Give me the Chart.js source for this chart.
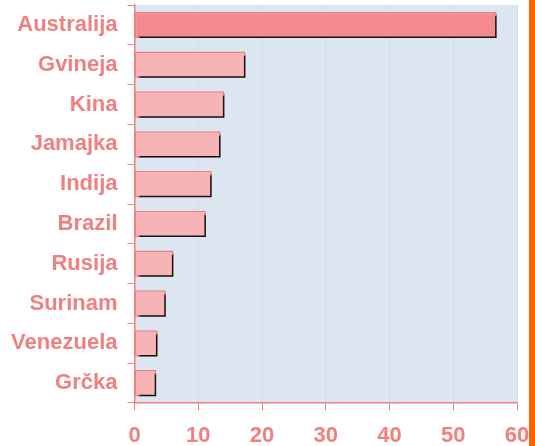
<!DOCTYPE html>
<html>
<head>
<meta charset="utf-8">
<script src="https://cdn.jsdelivr.net/npm/chart.js@4"></script>
<style>
  body { margin: 0; background: #fff; }
  #wrap { position: relative; width: 535px; height: 446px; }
  #box { position: absolute; left: 0; top: 0; width: 529px; height: 446px; }
  #stripe { position: absolute; left: 529px; top: 0; width: 6px; height: 446px; background: #ff6000; }
</style>
</head>
<body>
<div id="wrap">
  <div id="box"><canvas id="chart"></canvas></div>
  <div id="stripe"></div>
</div>
<script>
const countries = ["Australija", "Gvineja", "Kina", "Jamajka", "Indija", "Brazil", "Rusija", "Surinam", "Venezuela", "Grčka"];
const output = [56.8, 17.4, 14.1, 13.5, 12.1, 11.2, 6.1, 4.9, 3.6, 3.4];
const xTicks = [0, 10, 20, 30, 40, 50, 60];

const pink = "#f08080";
const ctx = document.getElementById("chart");

let fills = output.map((v) => "#f7b4b6");
fills[0] = "#f48a8e";

const plotBg = {
  id: "plotBg",
  beforeDraw(chart) {
    const a = chart.chartArea;
    const c = chart.ctx;
    c.save();
    c.fillStyle = "#dce6f1";
    c.fillRect(a.left, a.top, a.right - a.left, a.bottom - a.top);
    c.restore();
  },
};

const barShadow = {
  id: "barShadow",
  beforeDatasetsDraw(chart) {
    const c = chart.ctx;
    c.save();
    c.shadowColor = "#141414";
    c.shadowOffsetX = 3;
    c.shadowOffsetY = 3;
    c.shadowBlur = 0;
  },
  afterDatasetsDraw(chart) {
    chart.ctx.restore();
  },
};

function noPad(axis) {
  axis.paddingTop = 0;
  axis.paddingBottom = 0;
  axis.paddingLeft = 0;
  axis.paddingRight = 0;
}

new Chart(ctx, {
  type: "bar",
  data: {
    labels: countries,
    datasets: [
      {
        data: output,
        backgroundColor: fills,
        borderColor: pink,
        borderWidth: 1.5,
        borderSkipped: false,
        categoryPercentage: 1,
        barPercentage: 0.66,
      },
    ],
  },
  options: {
    indexAxis: "y",
    responsive: true,
    maintainAspectRatio: false,
    animation: false,
    layout: {
      padding: { top: 5, left: 0, right: 12, bottom: 0 },
    },
    scales: {
      x: {
        min: 0,
        max: 60,
        afterBuildTicks: (axis) => {
          axis.ticks = xTicks.map((v) => ({ value: v }));
        },
        afterFit: (axis) => {
          axis.height = 43;
          noPad(axis);
        },
        grid: {
          color: "#d3dbe4",
          tickColor: pink,
          tickLength: 7,
        },
        border: { color: pink, width: 1.5 },
        ticks: {
          color: pink,
          padding: 13,
          font: { family: "Liberation Sans", size: 22, weight: "bold" },
        },
      },
      y: {
        afterFit: (axis) => {
          axis.width = 134.5;
          noPad(axis);
        },
        grid: {
          drawOnChartArea: false,
          tickColor: pink,
          tickLength: 7,
        },
        border: { color: pink, width: 1.5 },
        ticks: {
          color: pink,
          padding: 10,
          font: { family: "Liberation Sans", size: 22, weight: "bold" },
        },
      },
    },
    plugins: {
      legend: { display: false },
      tooltip: { enabled: false },
    },
  },
  plugins: [plotBg, barShadow],
});
</script>
</body>
</html>
